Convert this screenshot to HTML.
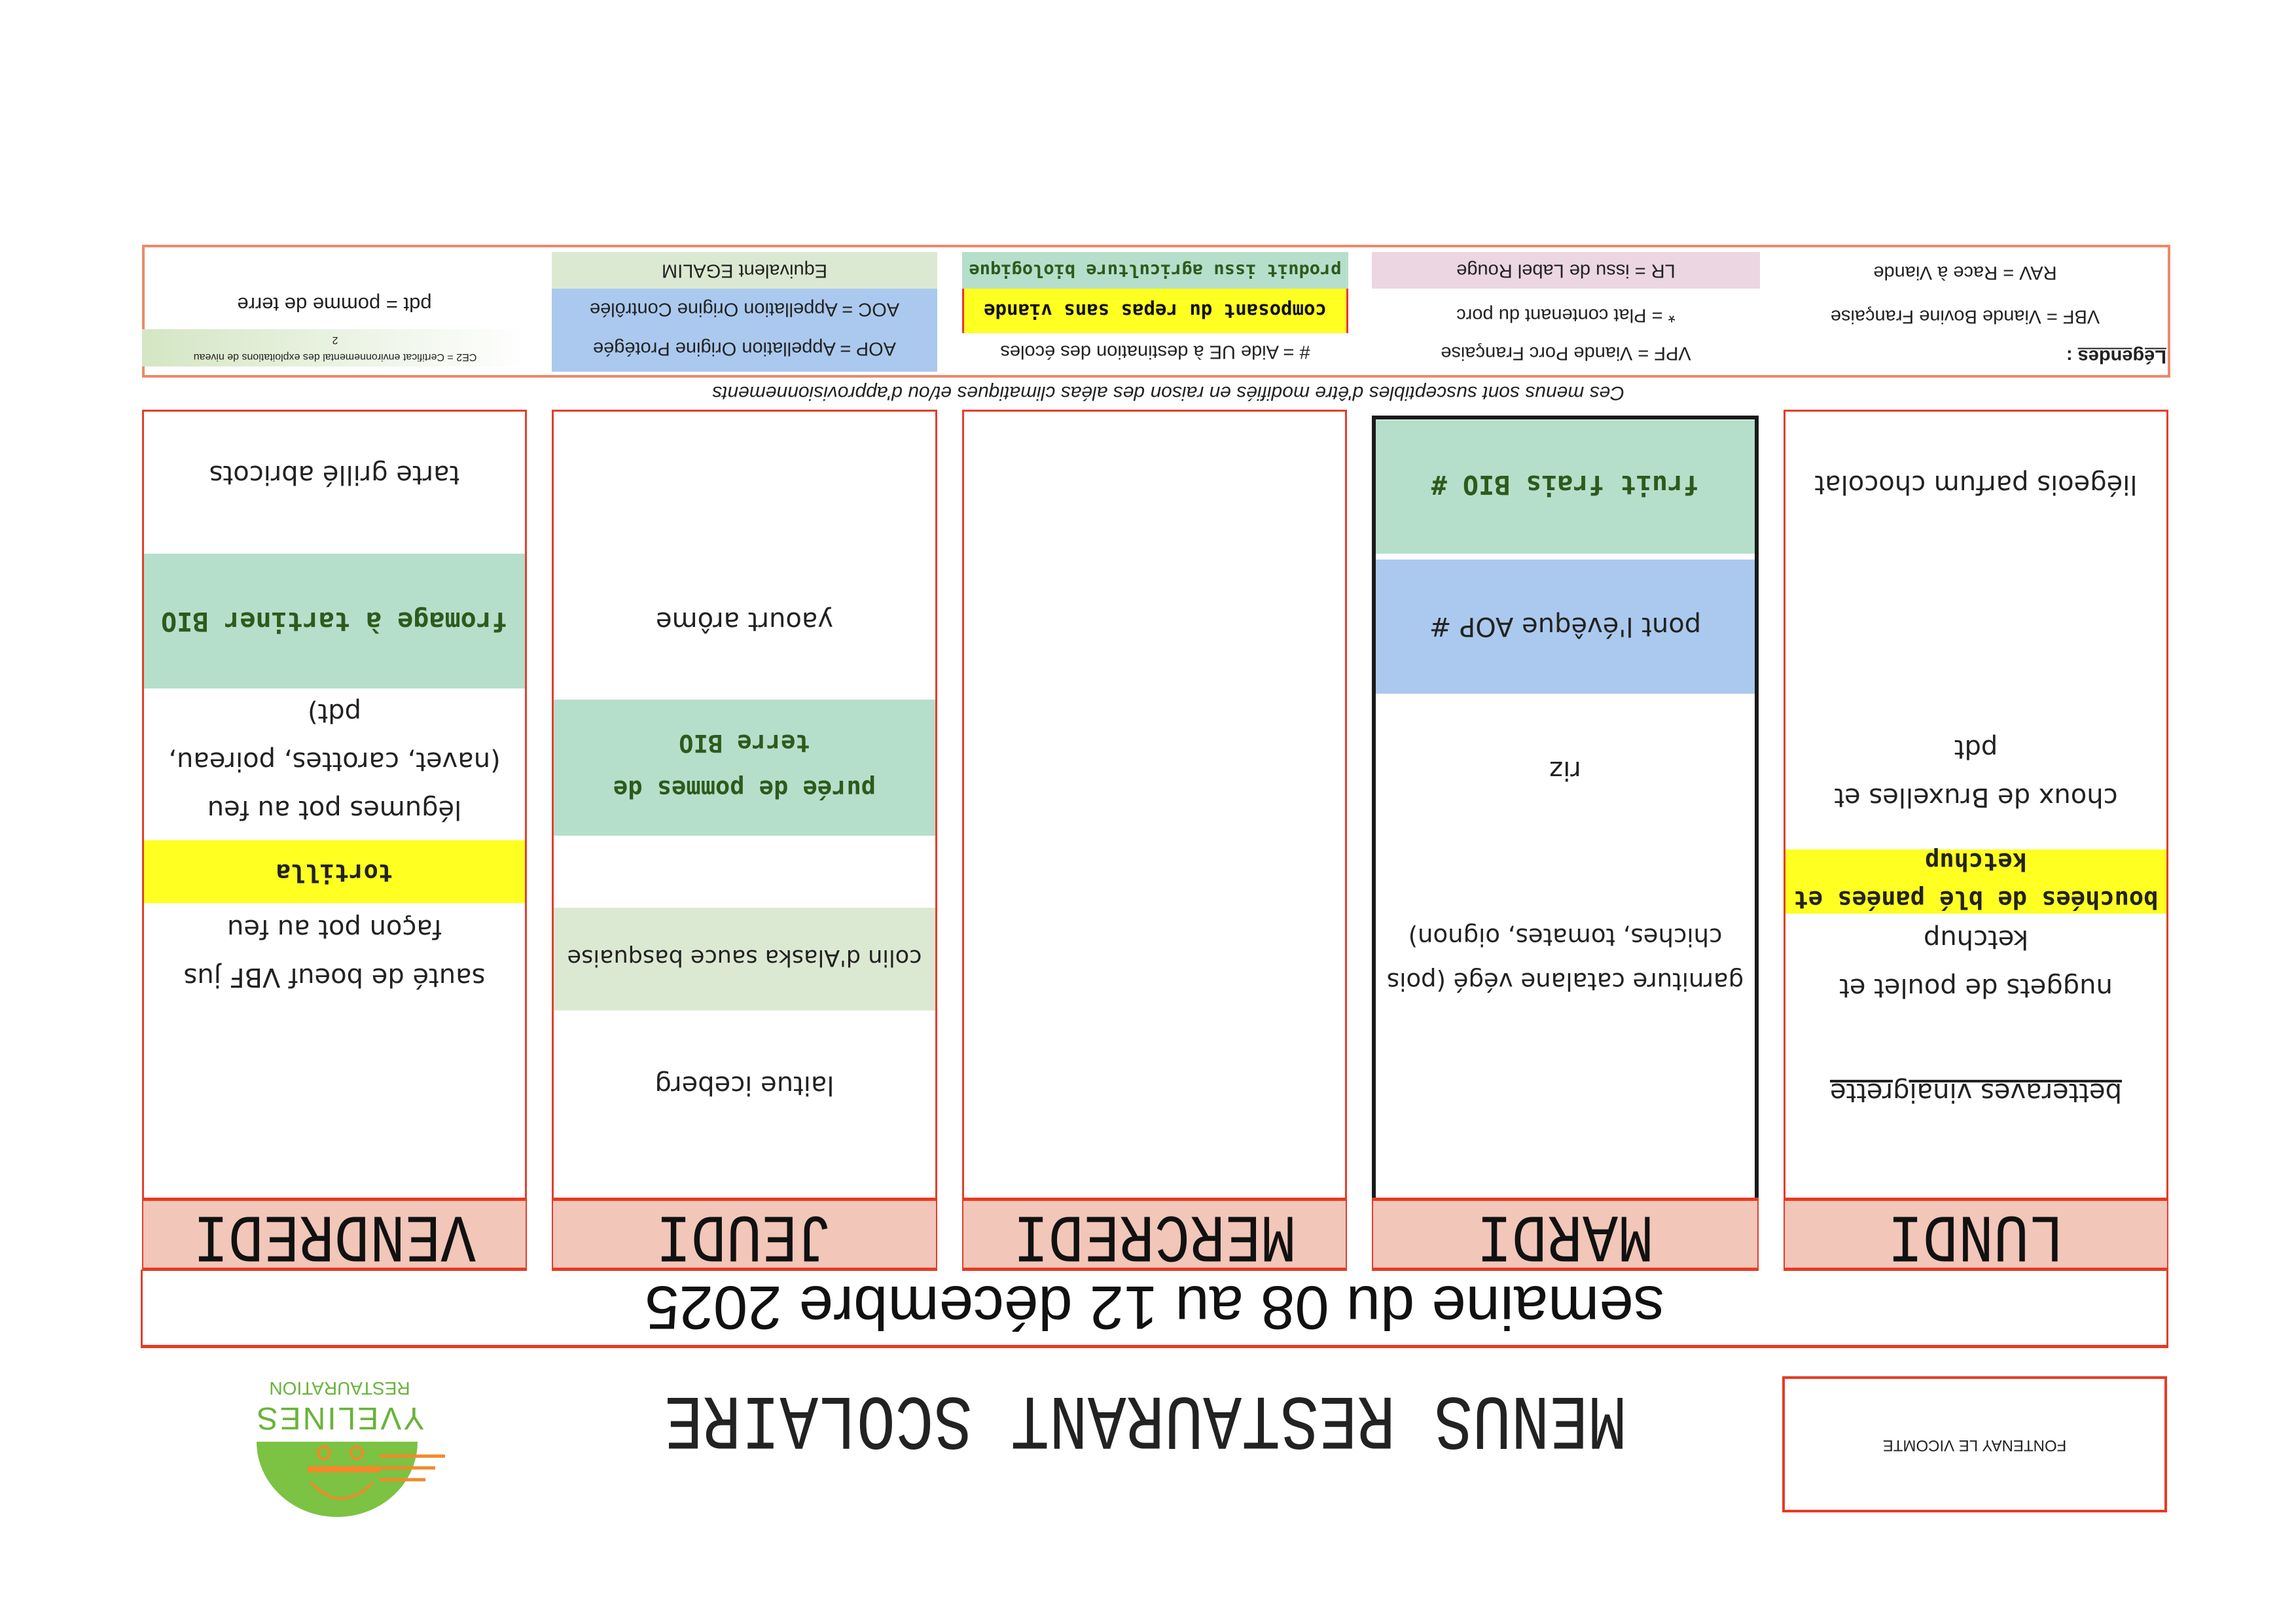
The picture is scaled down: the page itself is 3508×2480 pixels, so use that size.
<!DOCTYPE html>
<html><head><meta charset="utf-8">
<style>
*{margin:0;padding:0;box-sizing:border-box}
body{width:3508px;height:2480px;background:#fff;position:relative;overflow:hidden;font-family:"DejaVu Sans","Liberation Sans",sans-serif;color:#222}
.a{position:absolute}
.t{position:absolute;text-align:center;transform:translateY(-50%) rotate(180deg);font-size:40px;line-height:74px;color:#222}
.b{font-family:"DejaVu Sans Mono","Liberation Mono",monospace;font-weight:bold;font-size:37px;line-height:62px}
.g{color:#2e5a1c}
.col{position:absolute;top:626px;height:1204px;border:3px solid #e0402c;border-bottom:none}
.hd{position:absolute;top:1830px;height:112px;background:#f2c6b9;border-top:5px solid #e83a22;border-bottom:5px solid #e83a22;border-left:2px solid #e0402c;border-right:2px solid #e0402c;display:flex;align-items:center;justify-content:center;font-family:"Liberation Mono",monospace;font-size:90px;color:#111}
.hd span{transform:rotate(180deg) scaleY(1.15);display:block}
.lg{position:absolute;font-family:"Liberation Sans",sans-serif;font-size:29px;text-align:center;transform:translateY(-50%) rotate(180deg)}
</style></head><body>

<div class="a" style="left:217px;top:374px;width:3099px;height:203px;border:4px solid #eb8a6a"></div>
<div class="a" style="left:843px;top:385px;width:589px;height:56px;background:#dce9d2"></div>
<div class="a" style="left:843px;top:441px;width:589px;height:127px;background:#abc9ee"></div>
<div class="a" style="left:1470px;top:385px;width:590px;height:56px;background:#b5dfcb"></div>
<div class="a" style="left:1470px;top:441px;width:590px;height:68px;background:#ffff22;border-left:3px solid #e33;border-right:3px solid #e33"></div>
<div class="a" style="left:2096px;top:385px;width:593px;height:56px;background:#ecd6e2"></div>
<div class="a" style="left:217px;top:503px;width:588px;height:57px;background:linear-gradient(to left,#fff,#d4e6c4)"></div>

<div class="lg" style="left:843px;width:589px;top:413px">Equivalent EGALIM</div>
<div class="lg" style="left:843px;width:589px;top:472px">AOC = Appellation Origine Contrôlée</div>
<div class="lg" style="left:843px;width:589px;top:532px">AOP = Appellation Origine Protégée</div>
<div class="lg" style="left:1470px;width:590px;top:413px;font-weight:bold;font-family:'DejaVu Sans Mono',monospace;font-size:27px;color:#2e5a1c">produit issu agriculture biologique</div>
<div class="lg" style="left:1470px;width:590px;top:475px;font-weight:bold;font-family:'DejaVu Sans Mono',monospace;font-size:29px;color:#111">composant du repas sans viande</div>
<div class="lg" style="left:1470px;width:590px;top:537px"># = Aide UE à destination des écoles</div>
<div class="lg" style="left:2096px;width:593px;top:413px">LR = issu de Label Rouge</div>
<div class="lg" style="left:2096px;width:593px;top:481px">* = Plat contenant du porc</div>
<div class="lg" style="left:2096px;width:593px;top:539px">VPF = Viande Porc Française</div>
<div class="lg" style="left:2689px;width:627px;top:416px">RAV = Race à Viande</div>
<div class="lg" style="left:2689px;width:627px;top:483px">VBF = Viande Bovine Française</div>
<div class="lg" style="left:3130px;width:180px;top:544px;font-weight:bold;text-align:left"><u>Légendes</u> :</div>
<div class="lg" style="left:217px;width:588px;top:465px;font-size:31px">pdt = pomme de terre</div>
<div class="lg" style="left:222px;width:580px;top:532px;font-size:16px;line-height:26px">CE2 = Certificat environnemental des exploitations de niveau<br>2</div>

<div class="lg" style="left:900px;width:1770px;top:600px;font-style:italic;font-size:30px">Ces menus sont susceptibles d'être modifiés en raison des aléas climatiques et/ou d'approvisionnements</div>

<div class="col" style="left:217px;width:588px"></div>
<div class="col" style="left:843px;width:589px"></div>
<div class="col" style="left:1470px;width:588px"></div>
<div class="col" style="left:2725px;width:588px"></div>

<div class="a" style="left:220px;top:846px;width:582px;height:206px;background:#b5dfcb"></div>
<div class="a" style="left:220px;top:1284px;width:582px;height:96px;background:#ffff22"></div>
<div class="a" style="left:846px;top:1069px;width:583px;height:208px;background:#b5dfcb"></div>
<div class="a" style="left:846px;top:1387px;width:583px;height:157px;background:#dce9d2"></div>
<div class="a" style="left:2099px;top:642px;width:585px;height:204px;background:#b5dfcb"></div>
<div class="a" style="left:2099px;top:855px;width:585px;height:205px;background:#abc9ee"></div>
<div class="a" style="left:2728px;top:1298px;width:582px;height:98px;background:#ffff22"></div>
<div class="a" style="left:2096px;top:635px;width:591px;height:1210px;border:6px solid #1a1a1a"></div>

<div class="t" style="left:217px;width:588px;top:725px">tarte grillé abricots</div>
<div class="t b g" style="left:217px;width:588px;top:949px;font-size:40px">fromage à tartiner BIO</div>
<div class="t" style="left:217px;width:588px;top:1163px">légumes pot au feu<br>(navet, carottes, poireau,<br>pdt)</div>
<div class="t b" style="left:217px;width:588px;top:1333px">tortilla</div>
<div class="t" style="left:217px;width:588px;top:1456px">sauté de boeuf VBF jus<br>façon pot au feu</div>

<div class="t" style="left:843px;width:589px;top:949px">yaourt arôme</div>
<div class="t b g" style="left:843px;width:589px;top:1170px;line-height:70px">purée de pommes de<br>terre BIO</div>
<div class="t" style="left:843px;width:589px;top:1463px;font-size:35px;white-space:nowrap">colin d'Alaska sauce basquaise</div>
<div class="t" style="left:843px;width:589px;top:1658px">laitue iceberg</div>

<div class="t b g" style="left:2096px;width:591px;top:740px;font-size:40px">fruit frais BIO #</div>
<div class="t" style="left:2096px;width:591px;top:957px">pont l'évêque AOP #</div>
<div class="t" style="left:2096px;width:591px;top:1177px">riz</div>
<div class="t" style="left:2096px;width:591px;top:1465px;font-size:37px;line-height:68px">garniture catalane végé (pois<br>chiches, tomates, oignon)</div>

<div class="t" style="left:2725px;width:588px;top:740px">liégeois parfum chocolat</div>
<div class="t" style="left:2725px;width:588px;top:1181px">choux de Bruxelles et<br>pdt</div>
<div class="t b" style="left:2725px;width:588px;top:1345px;line-height:58px">bouchées de blé panées et<br>ketchup</div>
<div class="t" style="left:2725px;width:588px;top:1472px">nuggets de poulet et<br>ketchup</div>
<div class="t" style="left:2725px;width:588px;top:1669px"><u>betteraves vinaigrette</u></div>

<div class="hd" style="left:217px;width:588px"><span>VENDREDI</span></div>
<div class="hd" style="left:843px;width:589px"><span>JEUDI</span></div>
<div class="hd" style="left:1470px;width:588px"><span>MERCREDI</span></div>
<div class="hd" style="left:2096px;width:591px"><span>MARDI</span></div>
<div class="hd" style="left:2725px;width:588px"><span>LUNDI</span></div>

<div class="a" style="left:215px;top:1940px;width:3098px;height:120px;border-left:3px solid #e0402c;border-right:3px solid #e0402c;border-bottom:5px solid #e83a22"></div>
<div class="t" style="left:215px;width:3098px;top:1998px;font-family:'Liberation Sans',sans-serif;font-size:94px;line-height:100px;color:#111">semaine du 08 au 12 décembre 2025</div>

<div class="t" style="left:600px;width:2300px;top:2166px;font-family:'Liberation Mono',monospace;font-size:98px;line-height:100px;color:#222;transform:translateY(-50%) rotate(180deg) scaleY(1.2)">MENUS RESTAURANT SCOLAIRE</div>

<div class="a" style="left:2723px;top:2103px;width:588px;height:208px;border:4px solid #e83a22"></div>
<div class="t" style="left:2723px;width:588px;top:2208px;font-family:'Liberation Sans',sans-serif;font-size:24px;line-height:30px">FONTENAY LE VICOMTE</div>

<div class="t" style="left:369px;width:300px;top:2121px;font-family:'Liberation Sans',sans-serif;font-size:28px;line-height:30px;color:#6ab33a">RESTAURATION</div>
<div class="t" style="left:369px;width:300px;top:2166px;font-family:'Liberation Sans',sans-serif;font-size:48px;line-height:50px;color:#6ab33a;letter-spacing:3px">YVELINES</div>
<svg class="a" style="left:380px;top:2195px" width="300" height="130" viewBox="0 0 300 130">
<path d="M12 8 H258 A123 115 0 0 1 12 8 Z" fill="#7cc243"/>
<rect x="90" y="45" width="110" height="10" fill="#f08a2a"/>
<line x1="200" y1="30" x2="300" y2="30" stroke="#f08a2a" stroke-width="5"/>
<line x1="200" y1="48" x2="285" y2="48" stroke="#f08a2a" stroke-width="5"/>
<line x1="200" y1="66" x2="270" y2="66" stroke="#f08a2a" stroke-width="5"/>
<circle cx="115" cy="25" r="9" fill="none" stroke="#f08a2a" stroke-width="4"/>
<circle cx="165" cy="25" r="9" fill="none" stroke="#f08a2a" stroke-width="4"/>
<path d="M95 70 Q140 120 190 70" fill="none" stroke="#f08a2a" stroke-width="4"/>
</svg>

</body></html>
